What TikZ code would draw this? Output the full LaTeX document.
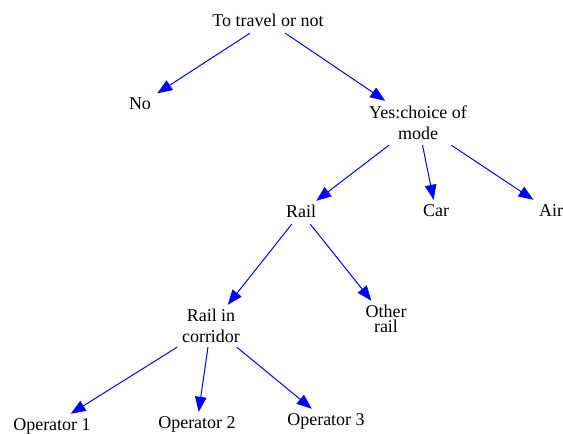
\documentclass[tikz,border=0pt]{standalone}
\usepackage{fontspec}
\setmainfont{Liberation Serif}
\usetikzlibrary{arrows.meta}
\begin{document}
\begin{tikzpicture}[x=1pt,y=-1pt,
  lbl/.style={font=\fontsize{18}{21}\selectfont, inner xsep=6pt, inner ysep=2pt, text height=14pt, text depth=5pt, anchor=base},
  mlbl/.style={font=\fontsize{18}{21}\selectfont, align=center, inner xsep=6pt, inner ysep=0pt},
  edge/.style={draw=blue, line width=1pt, -{Triangle[length=15pt,width=11.5pt]}}]
\useasboundingbox (0,0) rectangle (563,434);
\node[lbl] (top) at (268,26) {To travel or not};
\node[lbl] (no) at (140,109) {No};
\node[mlbl, minimum height=44pt] (yes) at (418,123) {Yes:choice of\\mode};
\node[lbl] (rail) at (301,217) {Rail};
\node[lbl] (car) at (436,216) {Car};
\node[lbl] (air) at (551,216) {Air};
\node[mlbl, minimum height=42pt] (corr) at (211,326) {Rail in\\corridor};
\node[mlbl, minimum height=36pt] (other) at (386,319) {Other\\[-5.5pt]rail};
\node[lbl] (op1) at (52,430) {Operator 1};
\node[lbl] (op2) at (197,428) {Operator 2};
\node[lbl] (op3) at (326,425) {Operator 3};
\draw[edge] (top) -- (no);
\draw[edge] (top) -- (yes);
\draw[edge] (yes) -- (rail);
\draw[edge] (yes) -- (car);
\draw[edge] (yes) -- (air);
\draw[edge] (rail) -- (corr);
\draw[edge] (rail) -- (other);
\draw[edge] (corr) -- (op1);
\draw[edge] (corr) -- (op2);
\draw[edge] (corr) -- (op3);
\end{tikzpicture}
\end{document}
